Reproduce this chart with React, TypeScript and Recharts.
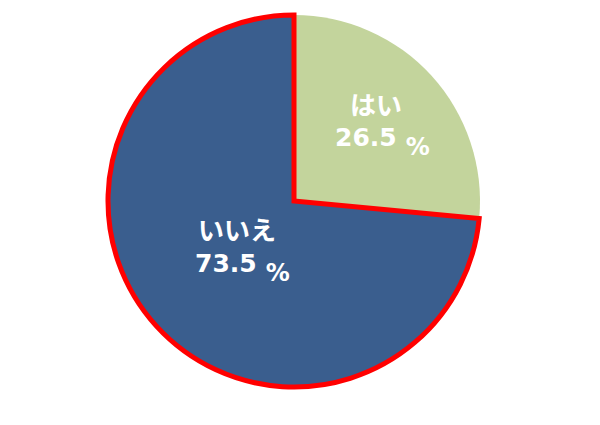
import React from "react";
import { PieChart, Pie, Cell } from "recharts";

const categories = ["はい", "いいえ"];
const values = [26.5, 73.5];
const valueLabels = ["26.5", "73.5"];
const fills = ["#c3d49c", "#3a5e8e"];
const strokes = ["none", "#ff0000"];

const data = categories.map((name, i) => ({ name, value: values[i] }));

// label placement offsets relative to the pie centre
const labelOffsets = [
  { dx: 56, dy1: -86, dx2: 41, dy2: -55 },
  { dx: -96, dy1: 39, dx2: -99, dy2: 71 },
];

const renderLabel = (props: any) => {
  const { cx, cy, index } = props;
  const o = labelOffsets[index];
  return (
    <g key={`lbl-${index}`}>
      <text
        x={cx + o.dx}
        y={cy + o.dy1}
        fill="#ffffff"
        fontFamily="'Noto Sans CJK JP', sans-serif"
        fontWeight="bold"
        fontSize={26}
        textAnchor="start"
      >
        {categories[index]}
      </text>
      <text
        x={cx + o.dx2}
        y={cy + o.dy2}
        fill="#ffffff"
        fontFamily="'DejaVu Sans', sans-serif"
        fontWeight="bold"
        fontSize={25}
        textAnchor="start"
      >
        {valueLabels[index]}
        <tspan dx={9} dy={9} fontSize={24}>%</tspan>
      </text>
    </g>
  );
};

export default function App() {
  return (
    <div style={{ position: "absolute", left: 0, top: 0, width: 600, height: 425, background: "#ffffff" }}>
      <PieChart width={600} height={425} margin={{ top: 0, right: 0, bottom: 0, left: 0 }}>
        <Pie
          data={data}
          dataKey="value"
          nameKey="name"
          cx={294}
          cy={201}
          outerRadius={186}
          startAngle={90}
          endAngle={-270}
          isAnimationActive={false}
          labelLine={false}
          label={renderLabel}
        >
          {data.map((d, i) => (
            <Cell key={d.name} fill={fills[i]} stroke={strokes[i]} strokeWidth={5} />
          ))}
        </Pie>
      </PieChart>
    </div>
  );
}
